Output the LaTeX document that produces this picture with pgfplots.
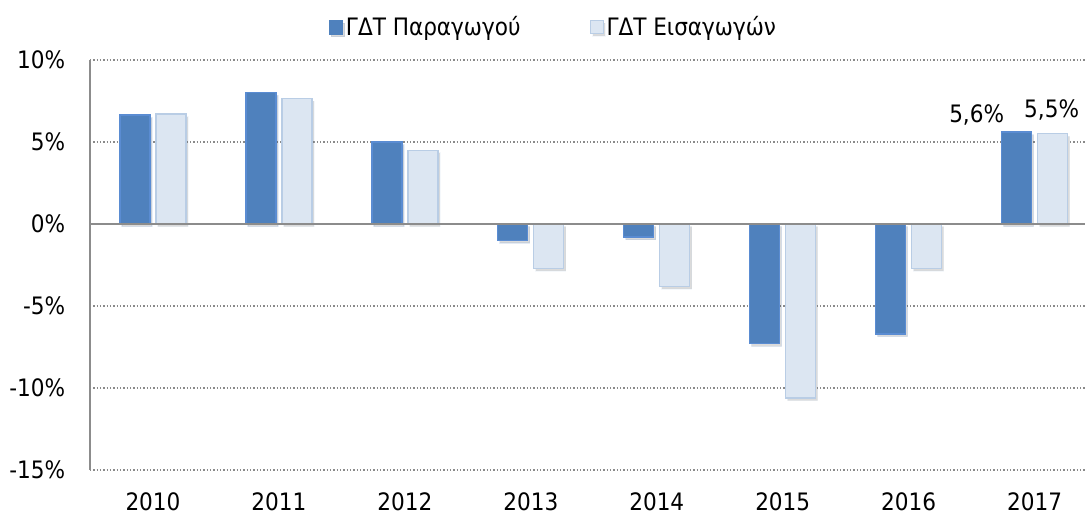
\documentclass[border=0pt]{standalone}
\usepackage{fontspec}
\setmainfont{DejaVu Sans Condensed}
\usepackage{pgfplots}
\usepackage{pgfplotstable}
\pgfplotsset{compat=1.18}
\usetikzlibrary{shadows}
\definecolor{bfill}{HTML}{4F81BD}
\definecolor{bedge}{HTML}{5A8CD2}
\definecolor{lfill}{HTML}{DCE6F2}
\definecolor{ledge}{HTML}{B9CDE5}
\definecolor{axgray}{HTML}{8C8C8C}
\definecolor{gridgray}{HTML}{8A8A8A}
\pgfplotstableread{
x a b
0 6.65 6.7
1 8.0 7.65
2 5.0 4.5
3 -1.0 -2.7
4 -0.8 -3.8
5 -7.3 -10.6
6 -6.7 -2.7
7 5.6 5.5
}\data
\begin{document}
\begin{tikzpicture}
\useasboundingbox (0,0) rectangle (814.5pt,385.5pt);
\begin{axis}[
  at={(67.5pt,33pt)}, anchor=south west,
  scale only axis, width=746.25pt, height=307.5pt,
  font=\fontsize{18}{21}\selectfont,
  xmin=-0.5, xmax=7.4, ymin=-15, ymax=10,
  ybar=4.5pt, bar width=22.5pt,
  xtick={0,1,2,3,4,5,6,7},
  xticklabels={2010,2011,2012,2013,2014,2015,2016,2017},
  ytick={-15,-10,-5,0,5,10},
  yticklabels={-15\%,-10\%,-5\%,0\%,5\%,10\%},
  major tick length=0pt,
  axis line style={draw=none},
  ymajorgrids,
  grid style={gridgray, line width=1.1pt, dash pattern=on 1.1pt off 1.4pt},
  yticklabel style={anchor=east, inner sep=0pt, xshift=-18.5pt},
  xticklabel style={anchor=north, inner sep=0pt, yshift=-16.5pt},
  legend style={at={(axis description cs:0.466,1.08)}, anchor=center, draw=none,
    font=\fontsize{18}{21}\selectfont, legend columns=2,
    /tikz/every even column/.append style={column sep=50pt}},
  clip=false,
]
\addplot[fill=bfill, draw=bedge, line width=1pt,
  drop shadow={shadow xshift=1.5pt, shadow yshift=-2pt, fill=black, opacity=0.14},
  legend image code/.code={\fill[bfill] (-2pt,-5pt) rectangle (8pt,5pt);}]
  table[x=x, y=a] {\data};
\addlegendentry{ΓΔΤ Παραγωγού}
\addplot[fill=lfill, draw=ledge, line width=1pt,
  drop shadow={shadow xshift=1.5pt, shadow yshift=-2pt, fill=black, opacity=0.14},
  legend image code/.code={\draw[fill=lfill, draw=ledge, line width=1pt] (-1.5pt,-4.5pt) rectangle (8pt,5pt);}]
  table[x=x, y=b] {\data};
\addlegendentry{ΓΔΤ Εισαγωγών}
\draw[axgray, line width=1.6pt] (axis cs:-0.5,0) -- (axis cs:7.4,0);
\draw[axgray, line width=1.6pt] (rel axis cs:0,0) -- (rel axis cs:0,1);
\node[anchor=base, inner sep=0pt, yshift=7.5pt] at (axis cs:6.54,5.6) {5,6\%};
\node[anchor=base, inner sep=0pt, yshift=12.5pt] at (axis cs:7.135,5.5) {5,5\%};
\end{axis}
\end{tikzpicture}
\end{document}
